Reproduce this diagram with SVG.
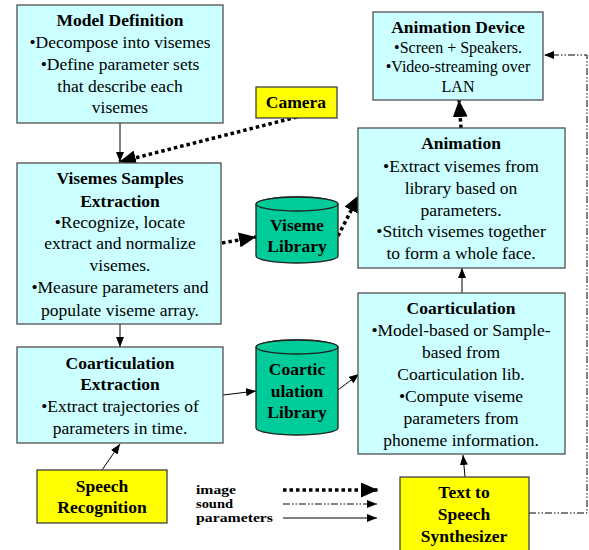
<svg xmlns="http://www.w3.org/2000/svg" width="589" height="550" viewBox="0 0 589 550">
<defs>
<style>
.box{fill:#CCFFFF;stroke:#505050;stroke-width:1.3}
.yel{fill:#FFFF00;stroke:#404040;stroke-width:1.3}
.cyl{fill:#00CC99;stroke:#202020;stroke-width:1.3}
text{font-family:"Liberation Serif","Times New Roman",serif;fill:#000;text-anchor:middle}
.t{font-size:17.5px;font-weight:bold}
.b{font-size:17.5px}
.s{font-size:16px}
.lg{font-size:13px;font-weight:bold;text-anchor:start}
.par{fill:none;stroke:#000;stroke-width:1}
.img{fill:none;stroke:#000;stroke-width:3.5;stroke-dasharray:3.5,3}
.snd{fill:none;stroke:#000;stroke-width:1;stroke-dasharray:7,2,1.5,2,1.5,2}
</style>
<marker id="a" markerWidth="10" markerHeight="8" refX="10" refY="4" orient="auto" markerUnits="userSpaceOnUse"><path d="M0,0 L10,4 L0,8 Z" fill="#000"/></marker>
<marker id="A" markerWidth="17" markerHeight="15" refX="17" refY="7.5" orient="auto" markerUnits="userSpaceOnUse"><path d="M0,0 L17,7.5 L0,15 Z" fill="#000"/></marker>
</defs>
<g id="connectors">
<line class="par" x1="120" y1="123" x2="120" y2="162" marker-end="url(#a)"/>
<line class="img" x1="297" y1="117" x2="119" y2="162" marker-end="url(#A)"/>
<line class="img" x1="222" y1="243" x2="256" y2="237" marker-end="url(#A)"/>
<line class="img" x1="338" y1="236" x2="359" y2="195" marker-end="url(#A)"/>
<line class="img" x1="461" y1="128" x2="459" y2="100" marker-end="url(#A)"/>
<line class="par" x1="120" y1="324" x2="120" y2="347" marker-end="url(#a)"/>
<line class="par" x1="223" y1="395" x2="256" y2="391" marker-end="url(#a)"/>
<line class="par" x1="338" y1="390" x2="359" y2="374" marker-end="url(#a)"/>
<line class="par" x1="462" y1="293" x2="462" y2="268" marker-end="url(#a)"/>
<line class="par" x1="465" y1="477" x2="463" y2="455" marker-end="url(#a)"/>
<line class="par" x1="102" y1="470" x2="120" y2="444" marker-end="url(#a)"/>
<polyline class="snd" points="529,513 587,513 587,55 544,55" marker-end="url(#a)"/>
<line class="img" x1="283" y1="490" x2="378" y2="490" marker-end="url(#A)"/>
<line class="snd" x1="283" y1="504" x2="377" y2="504" marker-end="url(#a)"/>
<line class="par" x1="283" y1="518" x2="377" y2="518" marker-end="url(#a)"/>
</g>
<g id="model-definition">
<rect class="box" x="17" y="5" width="206" height="118"/>
<text class="t" x="120" y="26">Model Definition</text>
<text class="b" x="120" y="48">•Decompose into visemes</text>
<text class="b" x="120" y="70">•Define parameter sets</text>
<text class="b" x="120" y="92">that describe each</text>
<text class="b" x="120" y="113">visemes</text>
</g>
<g id="camera">
<rect class="yel" x="256" y="87" width="81" height="31"/>
<text class="t" x="296" y="108">Camera</text>
</g>
<g id="visemes-samples-extraction">
<rect class="box" x="17" y="163" width="204" height="161"/>
<text class="t" x="120" y="184">Visemes Samples</text>
<text class="t" x="120" y="207">Extraction</text>
<text class="b" x="120" y="228">•Recognize, locate</text>
<text class="b" x="120" y="249">extract and normalize</text>
<text class="b" x="120" y="271">visemes.</text>
<text class="b" x="120" y="293">•Measure parameters and</text>
<text class="b" x="120" y="316">populate viseme array.</text>
</g>
<g id="viseme-library">
<path class="cyl" d="M256,204 L256,256 A41,7 0 0 0 338,256 L338,204 A41,7 0 0 0 256,204 Z"/>
<ellipse class="cyl" cx="297" cy="204" rx="41" ry="7"/>
<text class="t" x="297" y="231">Viseme</text>
<text class="t" x="297" y="252">Library</text>
</g>
<g id="animation-device">
<rect class="box" x="373" y="12" width="170" height="88"/>
<text class="t" x="458" y="33">Animation Device</text>
<text class="s" x="458" y="53">•Screen + Speakers.</text>
<text class="s" x="458" y="72">•Video-streaming over</text>
<text class="s" x="458" y="92">LAN</text>
</g>
<g id="animation">
<rect class="box" x="358" y="128" width="207" height="140"/>
<text class="t" x="461" y="149">Animation</text>
<text class="b" x="461" y="172">•Extract visemes from</text>
<text class="b" x="461" y="194">library based on</text>
<text class="b" x="461" y="216">parameters.</text>
<text class="b" x="461" y="237">•Stitch visemes together</text>
<text class="b" x="461" y="259">to form a whole face.</text>
</g>
<g id="coarticulation-extraction">
<rect class="box" x="17" y="347" width="206" height="96"/>
<text class="t" x="120" y="369">Coarticulation</text>
<text class="t" x="120" y="390">Extraction</text>
<text class="b" x="120" y="412">•Extract trajectories of</text>
<text class="b" x="120" y="434">parameters in time.</text>
</g>
<g id="coarticulation-library">
<path class="cyl" d="M256,347 L256,428 A41,7 0 0 0 338,428 L338,347 A41,7 0 0 0 256,347 Z"/>
<ellipse class="cyl" cx="297" cy="347" rx="41" ry="7"/>
<text class="t" x="297" y="375">Coartic</text>
<text class="t" x="297" y="397">ulation</text>
<text class="t" x="297" y="418">Library</text>
</g>
<g id="coarticulation">
<rect class="box" x="358" y="293" width="207" height="161"/>
<text class="t" x="461" y="314">Coarticulation</text>
<text class="b" x="461" y="336">•Model-based or Sample-</text>
<text class="b" x="461" y="358">based from</text>
<text class="b" x="461" y="380">Coarticulation lib.</text>
<text class="b" x="461" y="402">•Compute viseme</text>
<text class="b" x="461" y="424">parameters from</text>
<text class="b" x="461" y="446">phoneme information.</text>
</g>
<g id="speech-recognition">
<rect class="yel" x="37" y="470" width="130" height="53"/>
<text class="t" x="102" y="492">Speech</text>
<text class="t" x="102" y="513">Recognition</text>
</g>
<g id="text-to-speech">
<rect class="yel" x="400" y="477" width="129" height="76"/>
<text class="t" x="464" y="498">Text to</text>
<text class="t" x="464" y="520">Speech</text>
<text class="t" x="464" y="542">Synthesizer</text>
</g>
<g id="legend">
<text class="lg" x="196" y="494" textLength="40" lengthAdjust="spacingAndGlyphs">image</text>
<text class="lg" x="196" y="508" textLength="37" lengthAdjust="spacingAndGlyphs">sound</text>
<text class="lg" x="196" y="522" textLength="77" lengthAdjust="spacingAndGlyphs">parameters</text>
</g>
</svg>
